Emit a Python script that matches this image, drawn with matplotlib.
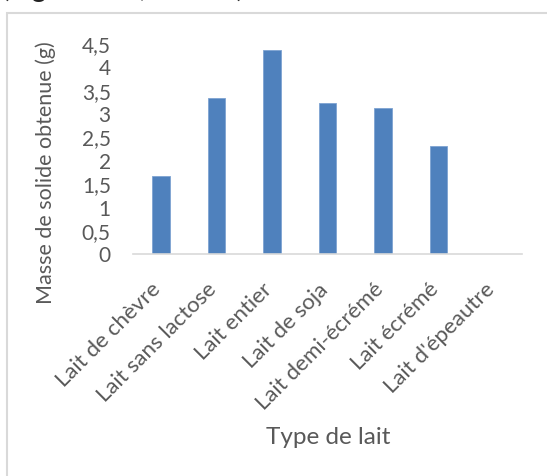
import matplotlib
matplotlib.use("Agg")
import matplotlib.pyplot as plt
import matplotlib.transforms as mtransforms
from matplotlib.patches import Rectangle

# Mass of solid recovered for each type of milk
categories = ["Lait de chèvre", "Lait sans lactose", "Lait entier", "Lait de soja",
              "Lait demi-écrémé", "Lait écrémé", "Lait d'épeautre"]
masses = [1.65, 3.33, 4.36, 3.22, 3.12, 2.29, 0.0]
yticks = [0, 0.5, 1, 1.5, 2, 2.5, 3, 3.5, 4, 4.5]
ytick_labels = ["0", "0,5", "1", "1,5", "2", "2,5", "3", "3,5", "4", "4,5"]

W, H = 547, 477
fig = plt.figure(figsize=(W / 100, H / 100), dpi=100)
plt.rcParams["font.family"] = ["Lato", "DejaVu Sans"]
txt = "#595959"

# caption line of the surrounding document, cut at the top edge
fig.text(2 / W, 1 + 3 / H, "(Figure 12a, lait cru)", fontsize=20,
         color="#222222", ha="left", va="baseline")

# chart frame
fig.patches.append(Rectangle((7 / W, -0.05), 1.1, 1 - 14 / H + 0.05,
                             transform=fig.transFigure, fill=False,
                             edgecolor="#d9d9d9", lw=1.5))

ax = fig.add_axes([133 / W, (H - 254.5) / H, (522 - 133) / W, (254.5 - 44) / H])
x = list(range(len(categories)))
ax.bar(x, masses, width=0.315, color="#4f81bd", edgecolor="#7ea3d2", linewidth=0.6)
ax.set_xlim(-0.5, len(categories) - 0.5)
ax.set_ylim(0, 4.5)

for s in ("top", "right", "left"):
    ax.spines[s].set_visible(False)
ax.spines["bottom"].set_color("#d9d9d9")
ax.spines["bottom"].set_linewidth(1.2)

ax.set_yticks(yticks)
ax.set_yticklabels(ytick_labels, fontsize=15, color=txt)
ax.tick_params(axis="y", length=0, pad=16)
ax.set_xticks(x)
ax.set_xticklabels(categories, fontsize=16, color=txt, rotation=45,
                   ha="right", va="center", rotation_mode="anchor")
ax.tick_params(axis="x", length=0, pad=23)
offset = mtransforms.ScaledTranslation(-3 / 100, 0, fig.dpi_scale_trans)
for lab in ax.get_xticklabels():
    lab.set_transform(lab.get_transform() + offset)

fig.text(46 / W, (H - 172.5) / H, "Masse de solide obtenue (g)", fontsize=15.5,
         color=txt, rotation=90, ha="center", va="center")
fig.text(328 / W, (H - 438) / H, "Type de lait", fontsize=17.5, color=txt,
         ha="center", va="center")

fig.savefig("out.png", dpi=100, facecolor="white")
